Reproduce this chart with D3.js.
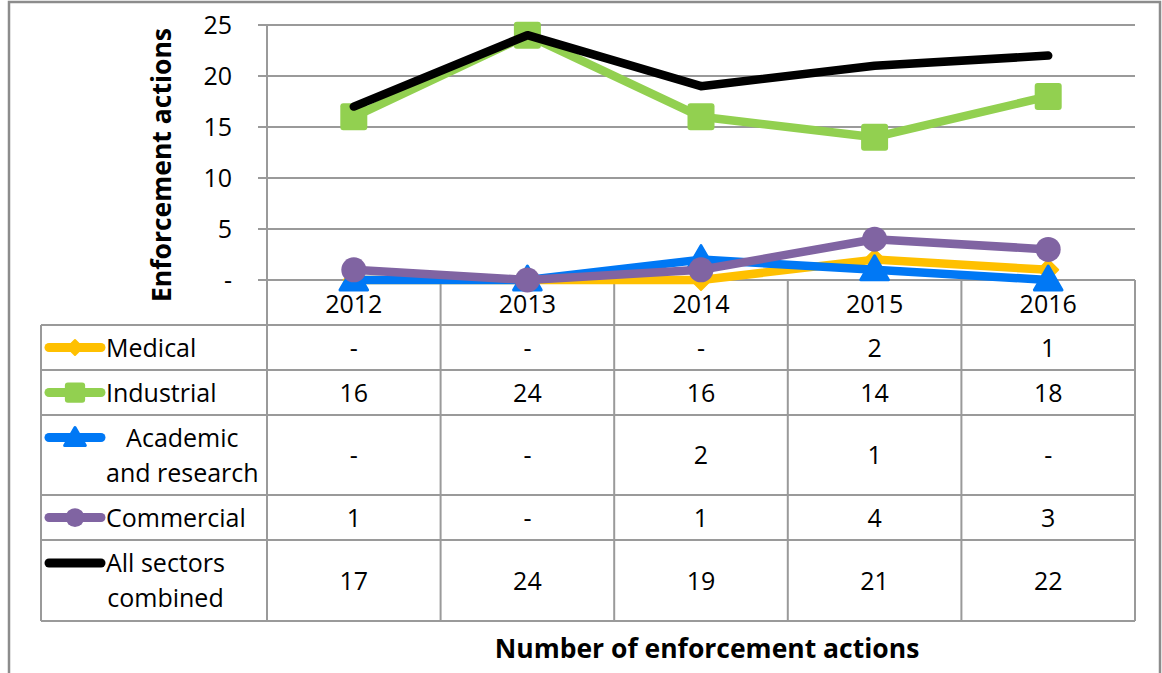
<!DOCTYPE html>
<html>
<head>
<meta charset="utf-8">
<script src="https://cdn.jsdelivr.net/npm/d3@7"></script>
<style>
  body { margin: 0; background: #fff; }
  text { font-family: "Open Sans", "Noto Sans", sans-serif; fill: #000; }
</style>
</head>
<body>
<svg id="chart"></svg>
<script>
const years = ["2012", "2013", "2014", "2015", "2016"];
const medical = [0, 0, 0, 2, 1];
const industrial = [16, 24, 16, 14, 18];
const academic = [0, 0, 2, 1, 0];
const commercial = [1, 0, 1, 4, 3];
const allSectors = [17, 24, 19, 21, 22];
const yTicks = [0, 5, 10, 15, 20, 25];

const series = [
  { name: ["Medical"], values: medical, color: "#FFC000", marker: "diamond" },
  { name: ["Industrial"], values: industrial, color: "#92D050", marker: "square" },
  { name: ["Academic", "and research"], values: academic, color: "#0078F5", marker: "triangle" },
  { name: ["Commercial"], values: commercial, color: "#8064A2", marker: "circle" },
  { name: ["All sectors", "combined"], values: allSectors, color: "#000000", marker: null },
];

const width = 1162;
const height = 673;
const svg = d3.select("#chart").attr("width", width).attr("height", height);

const gridColor = "#9a9a9a";
const plotLeft = 267, plotRight = 1135, plotTop = 25, plotBottom = 280;
const tableLeft = 41;

// outer chart border (bottom runs off the picture)
svg.append("rect")
  .attr("x", 9).attr("y", 2).attr("width", 1151).attr("height", 720)
  .attr("fill", "none").attr("stroke", "#8c8c8c").attr("stroke-width", 2.5);

const x = d3.scaleBand().domain(years).range([plotLeft, plotRight]);
const xc = (d) => x(d) + x.bandwidth() / 2;
const y = d3.scaleLinear().domain([0, 25]).range([plotBottom, plotTop]);

const fmt = (v) => (v === 0 ? "-" : String(v));

// gridlines + y labels
svg.append("g").selectAll("line").data(yTicks).enter().append("line")
  .attr("x1", 258).attr("x2", plotRight)
  .attr("y1", (d) => y(d)).attr("y2", (d) => y(d))
  .attr("stroke", gridColor).attr("stroke-width", 2);

svg.append("g").selectAll("text").data(yTicks).enter().append("text")
  .attr("x", 232).attr("y", (d) => y(d)).attr("dy", "0.36em")
  .attr("text-anchor", "end").style("font-size", "25px")
  .text(fmt);

svg.append("text")
  .attr("transform", "translate(171,165) rotate(-90)")
  .attr("text-anchor", "middle")
  .style("font-size", "26.5px").style("font-weight", "bold")
  .text("Enforcement actions");

// data table layout
const rowHeights = [45, 45, 45, 80, 45, 81];
const rowTops = [];
let acc = plotBottom;
rowHeights.forEach((h) => { rowTops.push(acc); acc += h; });
const tableBottom = acc;

const tg = svg.append("g");
// horizontal lines
rowTops.slice(1).concat([tableBottom]).forEach((yy) => {
  tg.append("line").attr("x1", tableLeft).attr("x2", plotRight)
    .attr("y1", yy).attr("y2", yy)
    .attr("stroke", gridColor).attr("stroke-width", 2);
});
// vertical lines
tg.append("line").attr("x1", plotLeft).attr("x2", plotLeft)
  .attr("y1", plotTop).attr("y2", tableBottom)
  .attr("stroke", gridColor).attr("stroke-width", 2);
tg.append("line").attr("x1", tableLeft).attr("x2", tableLeft)
  .attr("y1", rowTops[1]).attr("y2", tableBottom)
  .attr("stroke", gridColor).attr("stroke-width", 2);
years.forEach((yr) => {
  const xx = x(yr) + x.bandwidth();
  tg.append("line").attr("x1", xx).attr("x2", xx)
    .attr("y1", plotBottom).attr("y2", tableBottom)
    .attr("stroke", gridColor).attr("stroke-width", 2);
});

// category labels
tg.selectAll(".cat").data(years).enter().append("text")
  .attr("x", xc).attr("y", rowTops[0] + rowHeights[0] / 2 + 1).attr("dy", "0.36em")
  .attr("text-anchor", "middle").style("font-size", "25px")
  .text((d) => d);

// marker shapes
const drawMarker = (g, type, cx, cy, color, scale) => {
  if (!type) return;
  if (type === "square") {
    const s = 27 * scale;
    g.append("rect").attr("x", cx - s / 2).attr("y", cy - s / 2)
      .attr("width", s).attr("height", s).attr("rx", 3)
      .attr("fill", color);
  } else if (type === "circle") {
    g.append("circle").attr("cx", cx).attr("cy", cy).attr("r", 12.5 * scale).attr("fill", color);
  } else if (type === "triangle") {
    g.append("path").attr("d", d3.symbol().type(d3.symbolTriangle).size(330 * scale * scale)())
      .attr("transform", `translate(${cx},${cy + 2})`)
      .attr("fill", color).attr("stroke", color).attr("stroke-width", 3).attr("stroke-linejoin", "round");
  } else {
    const r = 10 * scale;
    g.append("path")
      .attr("d", `M${cx},${cy - r}L${cx + r},${cy}L${cx},${cy + r}L${cx - r},${cy}Z`)
      .attr("fill", color).attr("stroke", color).attr("stroke-width", 2).attr("stroke-linejoin", "round");
  }
};

// lines
const line = d3.line().x((d, i) => xc(years[i])).y((d) => y(d));
series.forEach((s) => {
  const g = svg.append("g");
  g.append("path").datum(s.values).attr("d", line)
    .attr("fill", "none").attr("stroke", s.color)
    .attr("stroke-width", 8.5).attr("stroke-linecap", "round").attr("stroke-linejoin", "round");
  s.values.forEach((v, i) => drawMarker(g, s.marker, xc(years[i]), y(v), s.color, 1));
});

// table rows: legend key + values
series.forEach((s, r) => {
  const top = rowTops[r + 1];
  const h = rowHeights[r + 1];
  const mid = top + h / 2;
  const nLines = s.name.length;
  const firstY = nLines === 1 ? mid : mid - 17.5;
  const g = svg.append("g");
  g.append("line").attr("x1", 49).attr("x2", 101).attr("y1", firstY).attr("y2", firstY)
    .attr("stroke", s.color).attr("stroke-width", 9).attr("stroke-linecap", "round");
  drawMarker(g, s.marker, 75, firstY, s.color, 0.75);

  const label = g.append("text").attr("text-anchor", "middle")
    .style("font-size", "25px");
  const spans = s.name.map((t, k) =>
    label.append("tspan")
      .attr("y", firstY + k * 35).attr("dy", "0.36em")
      .text(t));
  const maxW = d3.max(spans, (sp) => sp.node().getComputedTextLength());
  spans.forEach((sp) => sp.attr("x", 106 + maxW / 2));

  g.selectAll(".val").data(s.values).enter().append("text")
    .attr("x", (d, i) => xc(years[i])).attr("y", mid).attr("dy", "0.36em")
    .attr("text-anchor", "middle").style("font-size", "25px")
    .text(fmt);
});

svg.append("text")
  .attr("x", 707).attr("y", 648).attr("dy", "0.36em")
  .attr("text-anchor", "middle")
  .style("font-size", "26.5px").style("font-weight", "bold")
  .text("Number of enforcement actions");
</script>
</body>
</html>
